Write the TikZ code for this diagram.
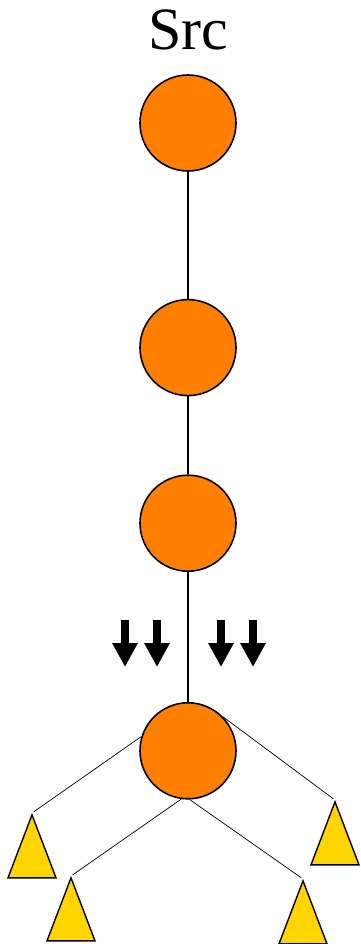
\documentclass[tikz,border=0pt]{standalone}
\usepackage{fontspec}
\setmainfont{Liberation Serif}
\usetikzlibrary{arrows.meta,
  positioning,
  shapes.geometric
}
\definecolor{peerorange}{RGB}{255,128,0}
\definecolor{leafyellow}{RGB}{255,213,0}

\begin{document}
\begin{tikzpicture}[x=1pt, y=-1pt,
        peer/.style={circle, draw=black, line width=1.6pt, fill=peerorange, minimum size=96pt, inner sep=0pt},
        leaf/.style={isosceles triangle, isosceles triangle stretches, shape border rotate=90,
          draw=black, line width=1.4pt, fill=leafyellow, minimum width=48pt, minimum height=63pt,
          inner sep=0pt, anchor=apex},
        stem/.style={line width=1.4pt},
        twig/.style={line width=0.7pt, shorten >=2pt},
        flow/.style={line width=8pt, -{Triangle[length=24pt, width=24pt]}},
      ]
      \useasboundingbox (0,0) rectangle (360,944);

      % Nodes
      \node[peer] (src) at (188,123) {};
      \node[peer] (relay1) [below=127pt of src] {};
      \node[peer] (relay2) [below=78pt of relay1] {};
      \node[peer] (hub) [below=130pt of relay2] {};

      \node[anchor=base, inner sep=0pt, font=\fontsize{60}{72}\selectfont] (label) at (188,50) {Src};

      \node[leaf] (leafA) at (32,813) {};
      \node[leaf] (leafB) at (71,876) {};
      \node[leaf] (leafC) at (303,879) {};
      \node[leaf] (leafD) at (335,800) {};

      % Lines
      \draw[stem] (src) -- (relay1) -- (relay2) -- (hub);
      \draw[twig] (hub.163) -- (leafA.apex);
      \draw[twig] (hub.262) -- (leafB.apex);
      \draw[twig] (hub.272) -- (leafC.apex);
      \draw[twig] (hub.44) -- (leafD.apex);

      % Traffic arrows
      \foreach \x in {125,157,221,253}
        \draw[flow] (\x,620) -- (\x,667);
    \end{tikzpicture}
\end{document}
